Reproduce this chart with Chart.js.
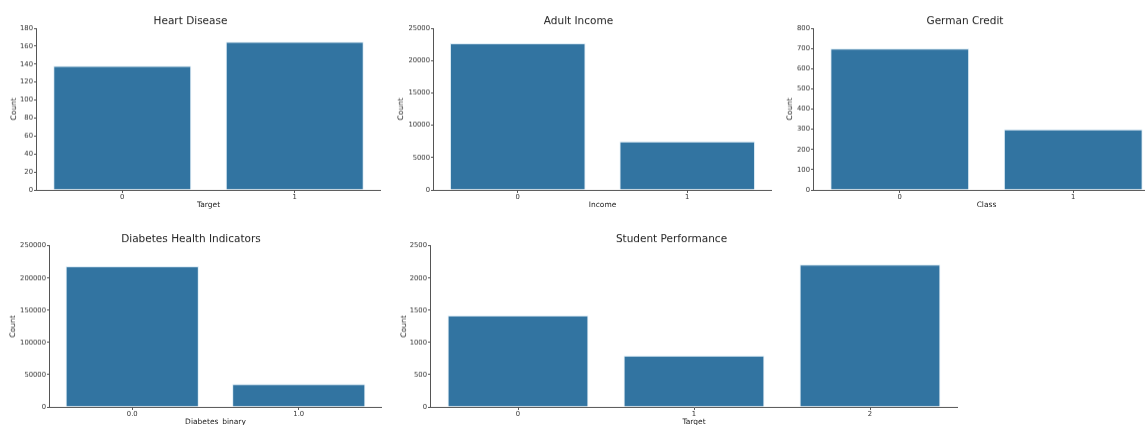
<!DOCTYPE html>
<html>
<head>
<meta charset="utf-8">
<script src="https://cdn.jsdelivr.net/npm/chart.js@4.4.1/dist/chart.umd.min.js"></script>
<style>
  html, body { margin: 0; padding: 0; background: #fff; overflow: hidden; }
  body { width: 1145px; height: 425px; position: relative; }
  .panel { position: absolute; }
</style>
</head>
<body>
<div class="panel" id="p1"><canvas id="c1"></canvas></div>
<div class="panel" id="p2"><canvas id="c2"></canvas></div>
<div class="panel" id="p3"><canvas id="c3"></canvas></div>
<div class="panel" id="p4"><canvas id="c4"></canvas></div>
<div class="panel" id="p5"><canvas id="c5"></canvas></div>
<script>
// Class counts per dataset
const heartLabels = ['0', '1'];
const heartCounts = [138, 165];
const heartTicks = [0, 180, 20];

const adultLabels = ['0', '1'];
const adultCounts = [22654, 7508];
const adultTicks = [0, 25000, 5000];

const germanLabels = ['0', '1'];
const germanCounts = [700, 300];
const germanTicks = [0, 800, 100];

const diabetesLabels = ['0.0', '1.0'];
const diabetesCounts = [218334, 35346];
const diabetesTicks = [0, 250000, 50000];

const studentLabels = ['0', '1', '2'];
const studentCounts = [1421, 794, 2209];
const studentTicks = [0, 2500, 500];

const FONT = '"DejaVu Sans", "Liberation Sans", sans-serif';
const BAR = '#3274a1';
const SPINE = '#555555';

// Panel geometry: container box, y-axis width, x-axis height, title/axis-title paddings
function place(id, left, top, width, height) {
  const el = document.getElementById(id);
  el.style.left = left + 'px';
  el.style.top = top + 'px';
  el.style.width = width + 'px';
  el.style.height = height + 'px';
}

function makeChart(canvasId, title, labels, counts, ticks, xTitle, g) {
  const [tMin, tMax, tStep] = ticks;
  return new Chart(document.getElementById(canvasId), {
    type: 'bar',
    data: {
      labels: labels,
      datasets: [{
        data: counts,
        backgroundColor: BAR,
        borderColor: 'rgba(200,225,240,0.6)',
        borderWidth: 1,
        borderSkipped: 'start',
        categoryPercentage: 1.0,
        barPercentage: 0.8
      }]
    },
    options: {
      responsive: true,
      maintainAspectRatio: false,
      animation: false,
      devicePixelRatio: 1,
      layout: { padding: 0 },
      plugins: {
        legend: { display: false },
        tooltip: { enabled: false },
        title: {
          display: true,
          text: title,
          color: '#222',
          font: { family: FONT, size: 10.5, weight: 'normal', lineHeight: 1.2 },
          padding: { top: g.titleTop, bottom: g.titleBottom }
        }
      },
      scales: {
        x: {
          offset: true,
          grid: { display: true, drawOnChartArea: false, drawTicks: true, tickLength: 3, offset: false, color: SPINE },
          border: { display: true, color: SPINE, width: 1 },
          ticks: { color: '#333', font: { family: FONT, size: 6.8 }, padding: 0, maxRotation: 0 },
          title: {
            display: true, text: xTitle, color: '#222',
            font: { family: FONT, size: 7.5, lineHeight: 1.2 },
            padding: { top: 0, bottom: 0 }
          },
          afterFit: (s) => { s.height = g.xH; }
        },
        y: {
          min: tMin, max: tMax,
          grid: { display: true, drawOnChartArea: false, drawTicks: true, tickLength: 2, color: SPINE },
          border: { display: true, color: SPINE, width: 1 },
          ticks: {
            stepSize: tStep, color: '#333', font: { family: FONT, size: 6.8 }, padding: 1,
            callback: (v) => String(v)
          },
          title: {
            display: true, text: 'Count', color: '#222',
            font: { family: FONT, size: 7.5, lineHeight: 1.2 },
            padding: { top: g.yTitlePad, bottom: 0 }
          },
          afterFit: (s) => { s.width = g.yW; }
        }
      }
    }
  });
}

const topRow = { titleTop: 14.7, titleBottom: 0.7, xH: 19.8 };
const botRow = { titleTop: 7.7, titleBottom: 0.4, xH: 19.5 };

place('p1', 0, 0, 381, 208.8);
place('p2', 385, 0, 387, 208.8);
place('p3', 770, 0, 390, 208.8);
place('p4', 0, 225, 382, 200.5);
place('p5', 385, 225, 573, 200.5);

makeChart('c1', 'Heart Disease', heartLabels, heartCounts, heartTicks, 'Target',
  Object.assign({ yW: 36, yTitlePad: 9.5 }, topRow));
makeChart('c2', 'Adult Income', adultLabels, adultCounts, adultTicks, 'Income',
  Object.assign({ yW: 48, yTitlePad: 11.5 }, topRow));
makeChart('c3', 'German Credit', germanLabels, germanCounts, germanTicks, 'Class',
  Object.assign({ yW: 43, yTitlePad: 15.5 }, topRow));
makeChart('c4', 'Diabetes Health Indicators', diabetesLabels, diabetesCounts, diabetesTicks, 'Diabetes_binary',
  Object.assign({ yW: 49, yTitlePad: 9 }, botRow));
makeChart('c5', 'Student Performance', studentLabels, studentCounts, studentTicks, 'Target',
  Object.assign({ yW: 45, yTitlePad: 14.5 }, botRow));
</script>
</body>
</html>
